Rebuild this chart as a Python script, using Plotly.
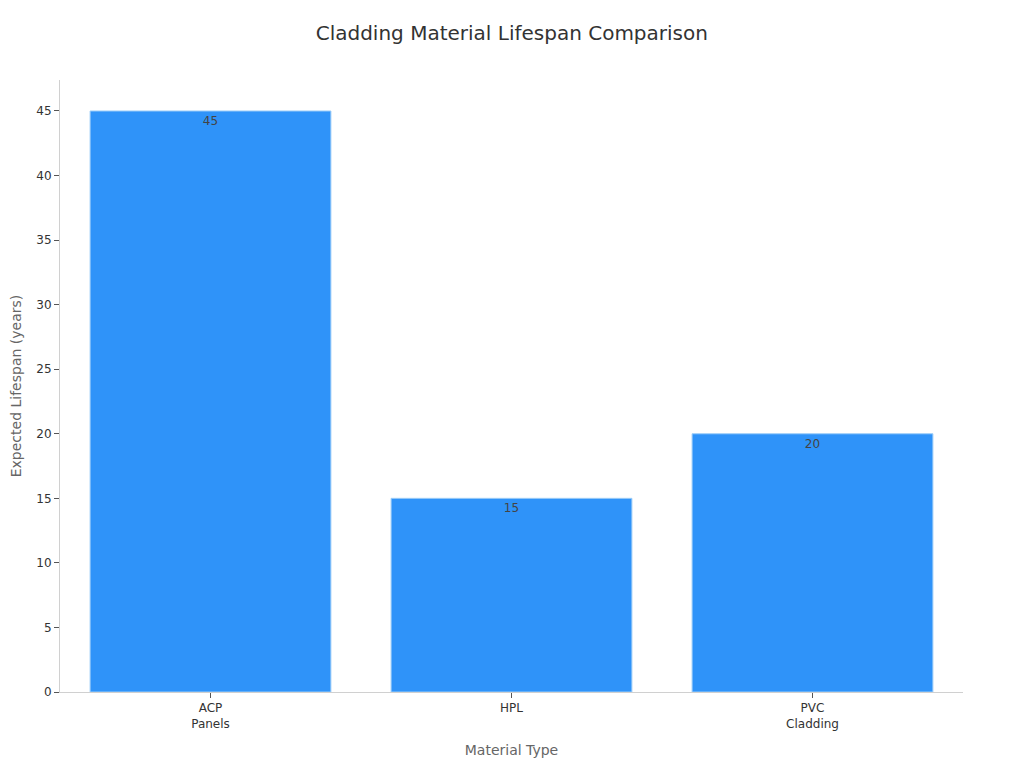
import plotly.graph_objects as go

materials = ["ACP<br>Panels", "HPL", "PVC<br>Cladding"]
lifespan_years = [45, 15, 20]

fig = go.Figure(data=[go.Bar(
    x=materials,
    y=lifespan_years,
    text=lifespan_years,
    textposition="inside",
    insidetextanchor="end",
    textfont=dict(color="#444444", size=12),
    marker=dict(color="#2f93f9", line=dict(color="#9ccdf8", width=1)),
)])

fig.update_layout(
    title=dict(text="Cladding Material Lifespan Comparison", xref="container", x=0.492,
               xanchor="center", y=0.9765, font=dict(size=20, color="#333333")),
    font=dict(family="DejaVu Sans", size=12, color="#333333"),
    width=1024, height=768,
    paper_bgcolor="white", plot_bgcolor="white",
    # page has 8px body margin, margins shifted to line up with the reference
    margin=dict(l=52, r=69, t=72, b=84),
    bargap=0.2,
    showlegend=False,
    xaxis=dict(
        title=dict(text="Material Type", font=dict(size=14, color="#666666"), standoff=15),
        showline=True, linecolor="#d0d0d0", linewidth=1,
        ticks="outside", tickcolor="#555555", ticklen=5,
        showgrid=False,
    ),
    yaxis=dict(
        title=dict(text="Expected Lifespan (years)", font=dict(size=14, color="#666666"),
                   standoff=18),
        automargin=False,
        range=[0, 47.4],
        dtick=5,
        showline=True, linecolor="#d0d0d0", linewidth=1,
        ticks="outside", tickcolor="#555555", ticklen=5,
        showgrid=False, zeroline=False,
    ),
)

fig.write_html("out.html")
